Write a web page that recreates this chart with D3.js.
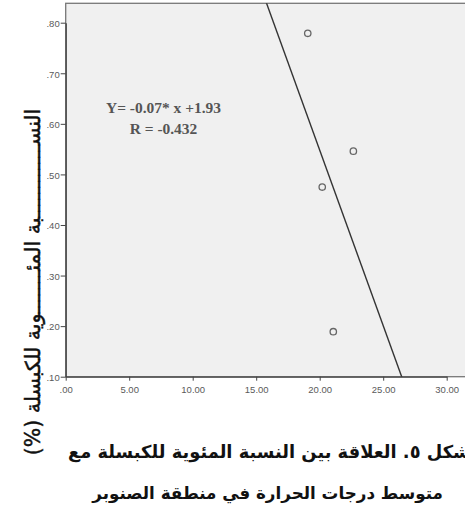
<!DOCTYPE html>
<html>
<head>
<meta charset="utf-8">
<script src="https://cdn.jsdelivr.net/npm/d3@7"></script>
<style>
  body { margin: 0; background: #fff; }
  svg { display: block; }
</style>
</head>
<body>
<svg id="chart" width="465" height="509"></svg>
<script>
// data
const tempValues = [19.06, 22.65, 20.2, 21.07];
const capsuleRatio = [0.779, 0.546, 0.475, 0.189];
const xTicks = [0, 5, 10, 15, 20, 25, 30];
const yTicks = [0.1, 0.2, 0.3, 0.4, 0.5, 0.6, 0.7, 0.8];
const fitSlope = -0.0694;
const fitIntercept = 1.936;
const fitLabels = ["Y= -0.07* x +1.93", "R = -0.432"];
// y title pieces, joined by long kashida strokes
const yTitleParts = ["النس", "بة المئ", "وية للكبسلة (%)"];
const captionLines = ["شكل ٥. العلاقة بين النسبة المئوية للكبسلة مع", "متوسط درجات الحرارة في منطقة الصنوبر"];

const svg = d3.select("#chart");

// plot frame (runs off the right edge like the reference)
const plot = { left: 65.7, top: 3.3, right: 490, bottom: 376.7 };

const xScale = d3.scaleLinear().domain([0, 30]).range([plot.left, 446.7]);
const yScale = d3.scaleLinear().domain([0.1, 0.8]).range([plot.bottom, 22.7]);

// shrink or grow a text until it is the wanted width
function fitWidth(sel, width) {
  const w = sel.node().getComputedTextLength();
  const fs = parseFloat(sel.style("font-size"));
  sel.style("font-size", (fs * width / w) + "px");
}

svg.append("rect")
  .attr("x", plot.left)
  .attr("y", plot.top)
  .attr("width", plot.right - plot.left)
  .attr("height", plot.bottom - plot.top)
  .attr("fill", "#f0f0f0")
  .attr("stroke", "#777")
  .attr("stroke-width", 1.3);

const fmt = d => d === 0 ? ".00" : d3.format(".2f")(d).replace(/^0/, "");

// x axis
const xAxis = svg.append("g")
  .attr("transform", `translate(0,${plot.bottom})`)
  .call(d3.axisBottom(xScale).tickValues(xTicks).tickFormat(fmt).tickSize(4).tickSizeOuter(0));
xAxis.select(".domain").attr("stroke", "#444").attr("stroke-width", 1.3);
xAxis.selectAll(".tick line").attr("stroke", "#444");
xAxis.selectAll("text")
  .attr("fill", "#5a5a5a")
  .attr("dy", "0.95em")
  .style("font-family", "Arial, 'Liberation Sans', sans-serif")
  .style("font-size", "9.5px");

// y axis
const yAxis = svg.append("g")
  .attr("transform", `translate(${plot.left},0)`)
  .call(d3.axisLeft(yScale).tickValues(yTicks).tickFormat(fmt).tickSize(5).tickSizeOuter(0));
yAxis.select(".domain").attr("stroke", "#444").attr("stroke-width", 1.3);
yAxis.selectAll(".tick line").attr("stroke", "#444");
yAxis.selectAll("text")
  .attr("fill", "#5a5a5a")
  .attr("x", -6)
  .attr("dy", "0.4em")
  .style("font-family", "Arial, 'Liberation Sans', sans-serif")
  .style("font-size", "9.5px");

// fit line, clipped to the frame
svg.append("clipPath").attr("id", "plot-clip")
  .append("rect")
  .attr("x", plot.left).attr("y", plot.top)
  .attr("width", plot.right - plot.left).attr("height", plot.bottom - plot.top);

const fitX = [10, 30];
svg.append("line")
  .attr("clip-path", "url(#plot-clip)")
  .attr("x1", xScale(fitX[0]))
  .attr("y1", yScale(fitIntercept + fitSlope * fitX[0]))
  .attr("x2", xScale(fitX[1]))
  .attr("y2", yScale(fitIntercept + fitSlope * fitX[1]))
  .attr("stroke", "#333")
  .attr("stroke-width", 1.4);

// points
svg.selectAll(".pt")
  .data(tempValues.map((t, i) => ({ t: t, r: capsuleRatio[i] })))
  .enter()
  .append("circle")
  .attr("class", "pt")
  .attr("cx", d => xScale(d.t))
  .attr("cy", d => yScale(d.r))
  .attr("r", 3.2)
  .attr("fill", "none")
  .attr("stroke", "#666")
  .attr("stroke-width", 1.3);

// equation text
const eq = svg.selectAll(".fit-label")
  .data(fitLabels)
  .enter()
  .append("text")
  .attr("class", "fit-label")
  .attr("x", 163.5)
  .attr("y", (d, i) => 113 + i * 21)
  .attr("text-anchor", "middle")
  .attr("fill", "#555")
  .style("font-family", "'Liberation Serif', 'Times New Roman', serif")
  .style("font-weight", "bold")
  .style("font-size", "14px")
  .text(d => d);
fitWidth(eq.filter((d, i) => i === 0), 115);
eq.style("font-size", eq.filter((d, i) => i === 0).style("font-size"));

// y title (arabic, rotated, reads bottom to top)
const yt = svg.append("text")
  .attr("transform", "translate(40,282) rotate(-90)")
  .attr("text-anchor", "middle")
  .attr("direction", "rtl")
  .style("font-family", "'DejaVu Sans', sans-serif")
  .style("font-size", "20.5px")
  .attr("fill", "#111")
  .attr("stroke", "#111")
  .attr("stroke-width", 0.45);

// measure the pieces, then spend the rest of the 430px on the two kashida runs (about 2:1)
yt.text("ـــــــــــــــــــ");
const kashW = yt.node().getComputedTextLength() / 10;
yt.text(yTitleParts.join("ـ"));
const spare = Math.max(0, 430 - yt.node().getComputedTextLength());
const n1 = 1 + Math.round(spare * 0.66 / kashW);
const n2 = 1 + Math.round(spare * 0.34 / kashW);
yt.text(yTitleParts[0] + "ـ".repeat(n1) + yTitleParts[1] + "ـ".repeat(n2) + yTitleParts[2]);

// caption, two lines; the first runs off the right edge
const cap2 = svg.append("text")
  .attr("x", 443)
  .attr("y", 499)
  .attr("text-anchor", "start")
  .attr("direction", "rtl")
  .style("font-family", "'DejaVu Sans', sans-serif")
  .style("font-weight", "bold")
  .style("font-size", "17px")
  .attr("fill", "#111")
  .text(captionLines[1]);
fitWidth(cap2, 351);

const cap1 = svg.append("text")
  .attr("x", 68)
  .attr("y", 458)
  .attr("text-anchor", "end")
  .attr("direction", "rtl")
  .style("font-family", "'DejaVu Sans', sans-serif")
  .style("font-weight", "bold")
  .style("font-size", "17px")
  .attr("fill", "#111")
  .text(captionLines[0]);
fitWidth(cap1, 403);
</script>
</body>
</html>
